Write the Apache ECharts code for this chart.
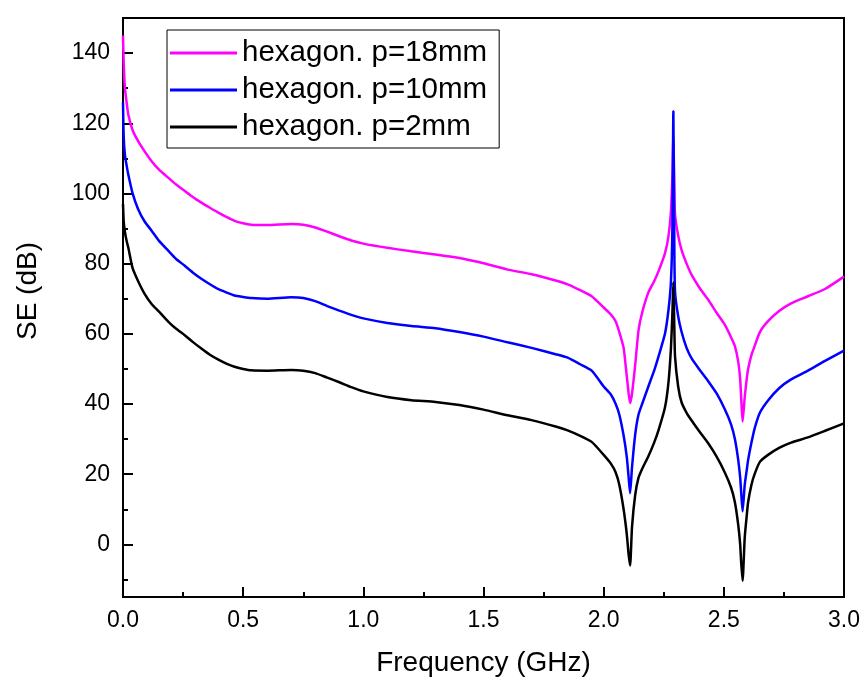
<!DOCTYPE html>
<html>
<head>
<meta charset="utf-8">
<script src="https://cdn.jsdelivr.net/npm/echarts@6/dist/echarts.min.js"></script>
<style>html,body{margin:0;padding:0;background:#fff}#c{width:866px;height:682px}</style>
</head>
<body>
<div id="c"></div>
<script>
var freq = [0, 0.003, 0.008, 0.015, 0.022, 0.04, 0.063, 0.09, 0.119, 0.15,
 0.188, 0.22, 0.257, 0.29, 0.326, 0.36, 0.395, 0.43, 0.464, 0.5,
 0.533, 0.6, 0.7, 0.75, 0.8, 0.85, 0.9, 0.95, 1.0, 1.1,
 1.2, 1.3, 1.4, 1.5, 1.6, 1.7, 1.8, 1.85, 1.9, 1.95,
 2.0, 2.03, 2.05, 2.065, 2.083, 2.096, 2.104, 2.11, 2.118, 2.131,
 2.145, 2.16, 2.186, 2.21, 2.228, 2.255, 2.27, 2.28, 2.286, 2.29,
 2.294, 2.297, 2.31, 2.324, 2.345, 2.366, 2.4, 2.435, 2.47, 2.504,
 2.53, 2.546, 2.56, 2.568, 2.572, 2.578, 2.587, 2.595, 2.601, 2.615,
 2.628, 2.65, 2.684, 2.73, 2.78, 2.85, 2.919, 3.0];

var seP18 = [145, 137, 130, 126, 122.5, 118, 114.9, 112, 109.2, 106.8,
 104.5, 102.6, 100.7, 99, 97.4, 96, 94.6, 93.3, 92.2, 91.5,
 91.1, 91, 91.3, 91.1, 90.3, 89.1, 87.8, 86.6, 85.7, 84.5,
 83.5, 82.6, 81.6, 80.1, 78.3, 77, 75.2, 74.1, 72.5, 70.7,
 67.5, 65.5, 63.5, 60.5, 56, 48, 43, 40.3, 43, 51,
 61, 66, 71.8, 75, 77.8, 82.9, 88, 95, 105, 116,
 102, 94, 88, 83.9, 80, 76.8, 73, 69.7, 66, 62.6,
 59, 56.5, 52, 47, 42, 35, 42, 47, 50, 54,
 56.5, 60.5, 63.6, 66.5, 68.7, 70.7, 72.7, 76.3];

var seP10 = [126, 116, 111, 108, 105.4, 100, 95.5, 92, 89.4, 86.5,
 83.7, 81.4, 79.4, 77.5, 75.7, 74.2, 72.8, 71.8, 70.9, 70.5,
 70.2, 70, 70.4, 70.2, 69.3, 67.9, 66.6, 65.4, 64.4, 63.1,
 62.2, 61.6, 60.5, 59.2, 57.6, 56, 54.2, 53.2, 51.4, 49.5,
 45, 42.7, 40, 37, 31, 25, 19, 14.6, 22, 31.2,
 37, 40, 45, 49.5, 53.5, 60, 67, 75, 90, 123.4,
 85, 72, 65, 60.6, 56, 53, 49.7, 46.5, 43, 38.5,
 34.2, 30, 24, 19, 15, 9.4, 17, 21, 24, 29,
 33, 37.5, 41, 44.5, 47, 49.5, 52.2, 55.2];

var seP2 = [97, 92, 89, 86.5, 84.6, 78.7, 75, 71.4, 68.5, 66.3,
 63.5, 61.5, 59.6, 57.7, 55.8, 54.1, 52.7, 51.5, 50.6, 50,
 49.6, 49.5, 49.7, 49.5, 48.8, 47.5, 46.2, 44.8, 43.6, 42,
 41.1, 40.6, 39.7, 38.4, 36.8, 35.4, 33.6, 32.5, 31, 29.2,
 25.5, 23, 20.5, 17, 10, 3, -3, -6, 5, 14,
 19, 21.5, 25.1, 29, 32.5, 39, 46.4, 56, 66, 74.7,
 62, 53.5, 45, 40.5, 37.5, 35.3, 32, 28.8, 25, 20.5,
 16.2, 12, 5.5, 0, -5, -10.4, 2, 8, 12, 17,
 20, 23.5, 25.5, 27.5, 29, 30.5, 32.3, 34.5];

var seriesNames = ['hexagon. p=18mm', 'hexagon. p=10mm', 'hexagon. p=2mm'];
var seriesColors = ['#FF00FF', '#0000FF', '#000000'];
var yMajorTicks = [0, 20, 40, 60, 80, 100, 120, 140];
var yMinorTicks = [-10, 10, 30, 50, 70, 90, 110, 130];

function pairs(vals) { return freq.map(function (f, i) { return [f, vals[i]]; }); }
var allVals = [seP18, seP10, seP2];

var FONT = 'Arial, "Liberation Sans", sans-serif';
var chart = echarts.init(document.getElementById('c'), null, {renderer: 'canvas'});
chart.setOption({
  animation: false,
  backgroundColor: '#fff',
  grid: {left: 123, right: 22, top: 18, bottom: 84, show: true, borderColor: '#000', borderWidth: 2, containLabel: false},
  legend: {
    data: seriesNames,
    orient: 'vertical',
    left: 167, top: 30,
    icon: 'rect',
    itemWidth: 67, itemHeight: 3, itemGap: 7,
    padding: [8, 12, 6, 3],
    borderColor: '#000', borderWidth: 1,
    backgroundColor: '#fff',
    textStyle: {fontFamily: FONT, fontSize: 29.5, color: '#000', lineHeight: 29},
    itemTextGap: 14
  },
  xAxis: {
    type: 'value', min: 0, max: 3, interval: 0.5,
    name: 'Frequency (GHz)', nameLocation: 'middle', nameGap: 52,
    nameTextStyle: {fontFamily: FONT, fontSize: 28, color: '#000', lineHeight: 28},
    axisLine: {show: true, onZero: false, lineStyle: {color: '#000', width: 2}},
    axisTick: {show: true, inside: true, length: 10, lineStyle: {color: '#000', width: 2}},
    minorTick: {show: true, splitNumber: 2, length: 5, lineStyle: {color: '#000', width: 2}},
    axisLabel: {fontFamily: FONT, fontSize: 23, color: '#000', margin: 12, formatter: function (v) { return v.toFixed(1); }},
    splitLine: {show: false}
  },
  yAxis: [{
    type: 'value', min: -15, max: 150,
    axisLine: {show: true, onZero: false, lineStyle: {color: '#000', width: 2}},
    axisTick: {show: true, inside: true, length: 10, customValues: yMajorTicks, lineStyle: {color: '#000', width: 2}},
    axisLabel: {fontFamily: FONT, fontSize: 23, color: '#000', margin: 13, customValues: yMajorTicks},
    splitLine: {show: false}
  }, {
    type: 'value', min: -15, max: 150, position: 'left',
    axisLine: {show: false},
    axisTick: {show: true, inside: true, length: 5, customValues: yMinorTicks, lineStyle: {color: '#000', width: 2}},
    axisLabel: {show: false},
    splitLine: {show: false}
  }],
  graphic: [{
    type: 'text', x: 28, y: 291, rotation: Math.PI / 2,
    style: {text: 'SE (dB)', font: '28px ' + FONT, fill: '#000', textAlign: 'center', textVerticalAlign: 'middle'}
  }],
  series: seriesNames.map(function (n, i) {
    return {
      name: n, type: 'line', yAxisIndex: 0,
      data: pairs(allVals[i]),
      showSymbol: false, symbol: 'none', smooth: 0.2,
      lineStyle: {color: seriesColors[i], width: 2.5},
      itemStyle: {color: seriesColors[i]}
    };
  })
});
</script>
</body>
</html>
